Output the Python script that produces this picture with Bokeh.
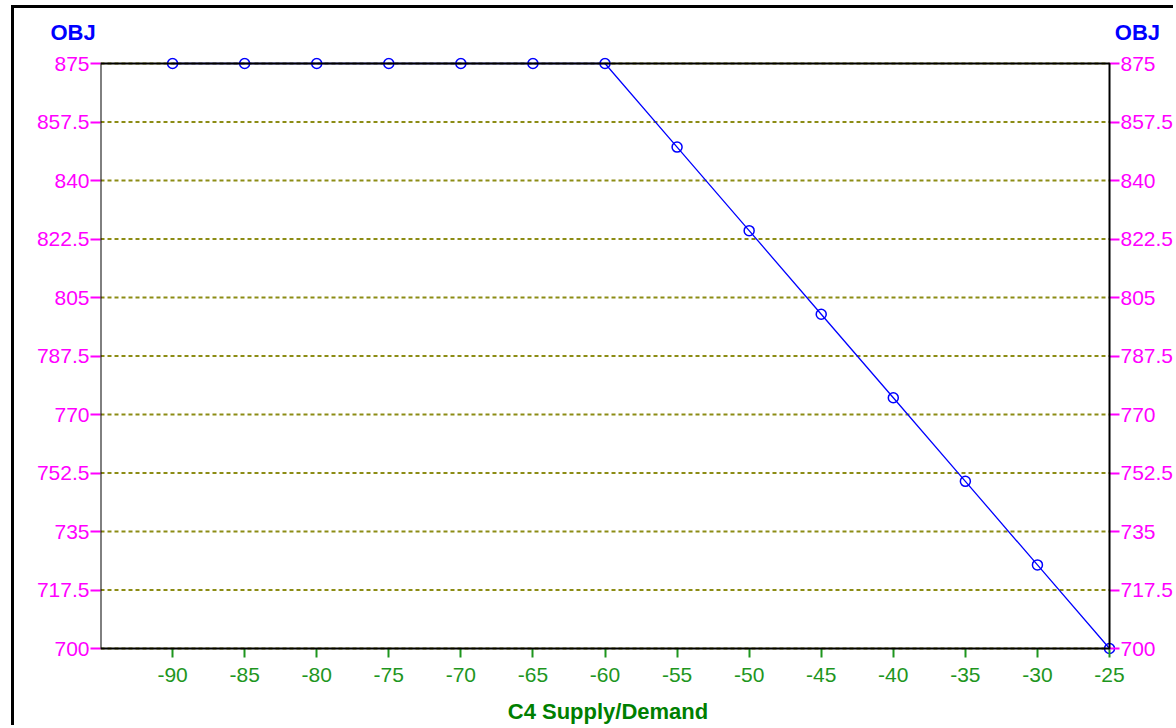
from bokeh.plotting import figure
from bokeh.models import (LinearAxis, FixedTicker, Range1d, BoxAnnotation, Title)
from bokeh.embed import file_html
from bokeh.resources import INLINE

# ---- data ----
x_vals = [-90, -85, -80, -75, -70, -65, -60, -55, -50, -45, -40, -35, -30, -25]
obj_vals = [875, 875, 875, 875, 875, 875, 875, 850, 825, 800, 775, 750, 725, 700]
y_ticks = [700, 717.5, 735, 752.5, 770, 787.5, 805, 822.5, 840, 857.5, 875]
y_tick_labels = ["700", "717.5", "735", "752.5", "770", "787.5", "805", "822.5", "840", "857.5", "875"]
x_ticks = [-90, -85, -80, -75, -70, -65, -60, -55, -50, -45, -40, -35, -30, -25]
x_tick_labels = ["-90", "-85", "-80", "-75", "-70", "-65", "-60", "-55", "-50", "-45", "-40", "-35", "-30", "-25"]
x_min, x_max = -95, -25
y_min, y_max = 700, 875
x_title = "C4 Supply/Demand"
y_title = "OBJ"

MAGENTA = "#FF00FF"
GREEN_T = "#1E961E"
GREEN_L = "#007F00"
BLUE = "#0000FF"
FONT = "Liberation Sans"

# small padding (px) so that the markers on the box edges are not clipped
PAD = 6
FRAME_W, FRAME_H = 1012, 585
xpad = PAD * (x_max - x_min) / FRAME_W
ypad = PAD * (y_max - y_min) / FRAME_H

p = figure(width=1162, height=720, output_backend="svg", toolbar_location=None,
           x_range=Range1d(x_min, x_max + xpad), y_range=Range1d(y_min - ypad, y_max + ypad),
           min_border_left=86, min_border_right=58, min_border_top=49, min_border_bottom=74,
           x_axis_location=None, y_axis_location=None)
p.styles = {"margin": "5px 0px 0px 11px", "border-left": "3px solid black",
            "border-top": "3px solid black"}
p.background_fill_color = "white"
p.border_fill_color = "white"
p.outline_line_color = None
p.xgrid.visible = False
p.ygrid.visible = False

# bottom axis
xa = LinearAxis(ticker=FixedTicker(ticks=x_ticks), axis_label=x_title)
xa.major_label_overrides = {t: s for t, s in zip(x_ticks, x_tick_labels)}
xa.axis_line_color = None
xa.major_tick_line_color = GREEN_T
xa.major_tick_line_width = 2
xa.major_tick_out = 3
xa.major_tick_in = PAD
xa.minor_tick_line_color = None
xa.major_label_text_color = GREEN_T
xa.major_label_text_font = FONT
xa.major_label_text_font_size = "21px"
xa.major_label_standoff = 10
xa.axis_label_text_color = GREEN_L
xa.axis_label_text_font = FONT
xa.axis_label_text_font_style = "bold"
xa.axis_label_text_font_size = "22px"
xa.axis_label_standoff = 14
p.add_layout(xa, "below")

# left and right value axes
overrides = {t: s for t, s in zip(y_ticks, y_tick_labels)}
for side in ("left", "right"):
    ya = LinearAxis(ticker=FixedTicker(ticks=y_ticks))
    ya.major_label_overrides = overrides
    ya.axis_line_color = None
    ya.major_tick_line_color = MAGENTA
    ya.major_tick_line_width = 2
    if side == "left":
        ya.major_tick_out = 10
        ya.major_tick_in = 0
    else:
        ya.major_tick_out = 4
        ya.major_tick_in = PAD
    ya.minor_tick_line_color = None
    ya.major_label_text_color = MAGENTA
    ya.major_label_text_font = FONT
    ya.major_label_text_font_size = "21px"
    ya.major_label_standoff = 1
    p.add_layout(ya, side)

# horizontal dotted grid, limited to the plotting box
p.segment(x0=[x_min] * len(y_ticks), x1=[x_max] * len(y_ticks), y0=y_ticks, y1=y_ticks,
          line_color="#8C8C14", line_width=2, line_dash="4 3")

# plotting box
p.add_layout(BoxAnnotation(left=x_min, right=x_max, bottom=y_min, top=y_max,
                           fill_color=None, fill_alpha=0, line_color="black",
                           line_alpha=1.0, line_width=2))

p.line(x_vals, obj_vals, line_color=BLUE, line_width=1.3)
p.scatter(x_vals, obj_vals, marker="circle", size=10, fill_color=None,
          line_color=BLUE, line_width=1.5)

# "OBJ" headers above both value axes (one title line, spaced with no-break spaces)
header = y_title + "\u00a0" * 166 + "\u2009" + y_title
p.add_layout(Title(text=header, align="left", offset=-50, standoff=22, vertical_align="top",
                   text_color=BLUE, text_font=FONT, text_font_style="bold",
                   text_font_size="22px"), "above")

open("out.html", "w").write(file_html(p, INLINE))
